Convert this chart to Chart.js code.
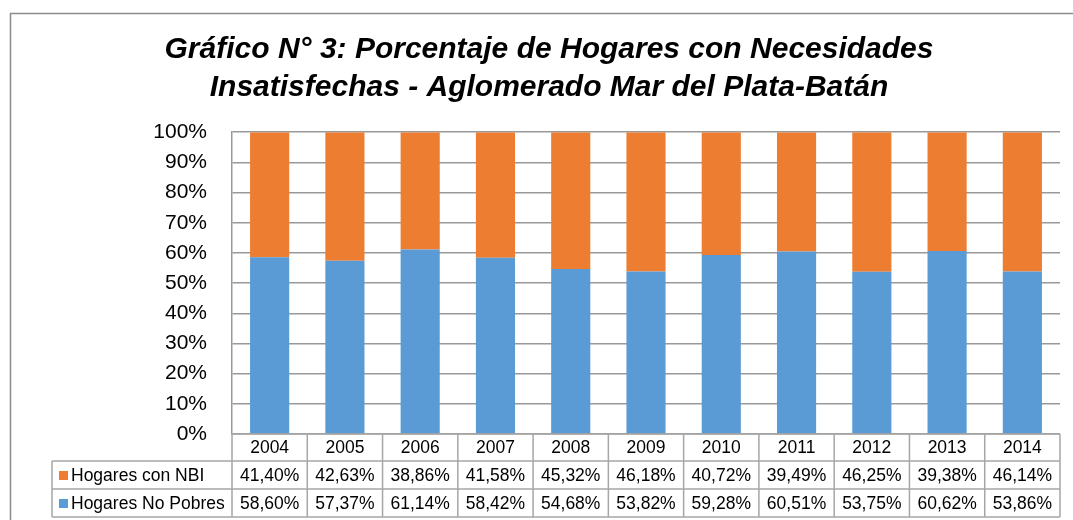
<!DOCTYPE html>
<html>
<head>
<meta charset="utf-8">
<style>
html,body{margin:0;padding:0;background:#fff;}
#wrap{position:relative;width:1073px;height:520px;}
</style>
<script src="https://cdn.jsdelivr.net/npm/chart.js@4/dist/chart.umd.min.js"></script>
</head>
<body>
<div id="wrap"><canvas id="c" width="1073" height="520"></canvas></div>
<script>
const years = ['2004','2005','2006','2007','2008','2009','2010','2011','2012','2013','2014'];
const nbi = [41.40,42.63,38.86,41.58,45.32,46.18,40.72,39.49,46.25,39.38,46.14];
const noPobres = [58.60,57.37,61.14,58.42,54.68,53.82,59.28,60.51,53.75,60.62,53.86];
const seriesNames = ['Hogares con NBI','Hogares No Pobres'];
const titleLines = ['Gráfico N° 3: Porcentaje de Hogares con Necesidades','Insatisfechas - Aglomerado Mar del Plata-Batán'];
const colors = ['#ED7D31','#5B9BD5'];
const FONT = '"Liberation Sans", Arial, sans-serif';

function fmt(v){ return v.toFixed(2).replace('.',',') + '%'; }

const tablePlugin = {
  id:'dataTable',
  afterDraw(chart){
    const ctx = chart.ctx;
    const xs = chart.scales.x;
    const area = chart.chartArea;
    const n = years.length;
    const cw = (area.right - area.left)/n;
    const top = area.bottom;
    const r1 = top + 27, r2 = r1 + 28, r3 = r2 + 28;
    const tl = 52;
    ctx.save();
    // outer frame
    ctx.strokeStyle = '#8c8c8c';
    ctx.lineWidth = 1.5;
    ctx.beginPath();
    ctx.moveTo(10.5, 530); ctx.lineTo(10.5, 13.5); ctx.lineTo(1080, 13.5);
    ctx.stroke();
    // table lines
    ctx.strokeStyle = '#a6a6a6';
    ctx.lineWidth = 1.5;
    ctx.beginPath();
    ctx.moveTo(area.left, top); ctx.lineTo(area.right, top);
    [r1, r2, r3].forEach(y=>{ ctx.moveTo(tl, y); ctx.lineTo(area.right, y); });
    ctx.moveTo(tl, r1); ctx.lineTo(tl, r3);
    for(let i=0;i<=n;i++){
      const x = area.left + i*cw;
      ctx.moveTo(x, top); ctx.lineTo(x, r3);
    }
    ctx.stroke();
    // text
    ctx.fillStyle = '#000';
    ctx.font = '17.5px ' + FONT;
    ctx.textAlign = 'center';
    ctx.textBaseline = 'middle';
    years.forEach((y,i)=>{
      const cx = xs.getPixelForValue(i);
      ctx.fillText(y, cx, (top+r1)/2 + 1);
      ctx.fillText(fmt(nbi[i]), cx, (r1+r2)/2 + 1);
      ctx.fillText(fmt(noPobres[i]), cx, (r2+r3)/2 + 1);
    });
    // legend keys
    ctx.textAlign = 'left';
    [[r1,r2],[r2,r3]].forEach((rr,k)=>{
      const cy = (rr[0]+rr[1])/2;
      ctx.fillStyle = colors[k];
      ctx.fillRect(59, cy-4, 9, 9);
      ctx.fillStyle = '#000';
      ctx.fillText(seriesNames[k], 71, cy + 1);
    });
    ctx.restore();
  }
};

new Chart(document.getElementById('c'), {
  type:'bar',
  data:{
    labels: years,
    datasets:[
      {label: seriesNames[1], data: noPobres, backgroundColor: colors[1], borderWidth:0, barPercentage:0.52, categoryPercentage:1},
      {label: seriesNames[0], data: nbi, backgroundColor: colors[0], borderWidth:0, barPercentage:0.52, categoryPercentage:1}
    ]
  },
  options:{
    responsive:false,
    animation:false,
    devicePixelRatio:1,
    layout:{padding:{left:38, right:13, top:0, bottom:86}},
    plugins:{
      legend:{display:false},
      tooltip:{enabled:false},
      title:{
        display:true,
        text: titleLines,
        color:'#000',
        font:{family:FONT, size:30, weight:'bold', style:'italic', lineHeight:1.27},
        padding:{top:31, bottom:25}
      }
    },
    scales:{
      x:{stacked:true, display:false, offset:true},
      y:{
        stacked:true, min:0, max:100,
        afterFit(s){ s.width = 194; },
        border:{display:true, color:'#999', width:1.5},
        grid:{color:'#999', lineWidth:1.5, drawTicks:false},
        ticks:{stepSize:10, padding:25, color:'#000', font:{family:FONT, size:21}, callback:v=>v+'%'}
      }
    }
  },
  plugins:[tablePlugin]
});
</script>
</body>
</html>
